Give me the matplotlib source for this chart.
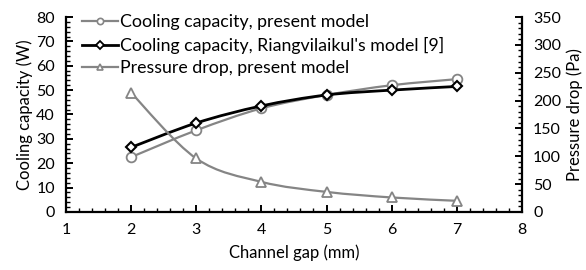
import numpy as np
import matplotlib
matplotlib.use("Agg")
import matplotlib.pyplot as plt
from matplotlib.path import Path
from matplotlib.patches import PathPatch
from matplotlib.lines import Line2D
from matplotlib.ticker import MultipleLocator

plt.rcParams['font.family'] = ['Lato', 'DejaVu Sans']

gap = [2, 3, 4, 5, 6, 7]
cool_present = [22.5, 33.5, 42.5, 48.0, 52.0, 54.5]
cool_riang = [26.5, 36.5, 43.5, 48.0, 50.0, 51.5]
pressure = [214, 96, 54, 36, 26, 20]

labels = ["Cooling capacity, present model",
          "Cooling capacity, Riangvilaikul's model [9]",
          "Pressure drop, present model"]


def smooth_path(ax, x, y, color, lw, z):
    pts = ax.transData.transform(np.column_stack([x, y]))
    n = len(pts)
    verts = [pts[0]]
    codes = [Path.MOVETO]
    for i in range(n - 1):
        p0 = pts[i - 1] if i > 0 else pts[i]
        p1 = pts[i]
        p2 = pts[i + 1]
        p3 = pts[i + 2] if i + 2 < n else pts[i + 1]
        c1 = p1 + (p2 - p0) / 6.0
        c2 = p2 - (p3 - p1) / 6.0
        verts += [c1, c2, p2]
        codes += [Path.CURVE4] * 3
    path = Path(verts, codes)
    patch = PathPatch(path, facecolor='none', edgecolor=color, lw=lw,
                      transform=None, zorder=z)
    ax.add_artist(patch)


fig = plt.figure(figsize=(5.86, 2.70), dpi=100)
ax = fig.add_axes([0.1126, 0.215, 0.778, 0.722])
ax2 = ax.twinx()

ax.set_xlim(1, 8)
ax.set_ylim(0, 80)
ax2.set_ylim(0, 350)

grey = '#858585'

for a in (ax, ax2):
    for s in a.spines.values():
        s.set_visible(False)
ax.spines['left'].set_visible(True)
ax.spines['bottom'].set_visible(True)
ax2.spines['right'].set_visible(True)
for s in ('left', 'bottom'):
    ax.spines[s].set_linewidth(1.6)
ax2.spines['right'].set_linewidth(1.6)

ax.xaxis.set_major_locator(MultipleLocator(1))
ax.xaxis.set_minor_locator(MultipleLocator(0.2))
ax.yaxis.set_major_locator(MultipleLocator(10))
ax.yaxis.set_minor_locator(MultipleLocator(2))
ax2.yaxis.set_major_locator(MultipleLocator(50))
ax2.yaxis.set_minor_locator(MultipleLocator(10))

tfs = 11.5
ax.tick_params(axis='both', which='major', direction='in', length=5, width=1.4, labelsize=tfs, pad=8)
ax.tick_params(axis='both', which='minor', direction='in', length=3, width=1.0)
ax2.tick_params(axis='y', which='major', direction='in', length=5, width=1.4, labelsize=tfs, pad=8)
ax2.tick_params(axis='y', which='minor', direction='in', length=3, width=1.0)

ax.set_xlabel("Channel gap (mm)", fontsize=12, labelpad=5)
ax.set_ylabel("Cooling capacity (W)", fontsize=12, labelpad=2)
ax2.set_ylabel("Pressure drop (Pa)", fontsize=12, labelpad=4)

fig.canvas.draw()

smooth_path(ax, gap, cool_present, grey, 1.6, 3)
ax.plot(gap, cool_present, ls='none', marker='o', ms=7, mfc='white', mec=grey, mew=1.3, zorder=4)
smooth_path(ax, gap, cool_riang, 'black', 2.0, 5)
ax.plot(gap, cool_riang, ls='none', marker='D', ms=5, mfc='white', mec='black', mew=1.5, zorder=6)
smooth_path(ax2, gap, pressure, grey, 1.6, 3)
ax2.plot(gap, pressure, ls='none', marker='^', ms=7, mfc='white', mec=grey, mew=1.3, zorder=4)

handles = [
    Line2D([], [], color=grey, lw=1.6, marker='o', ms=4.5, mfc='white', mec=grey, mew=1.2),
    Line2D([], [], color='black', lw=2.0, marker='D', ms=4, mfc='white', mec='black', mew=1.3),
    Line2D([], [], color=grey, lw=1.6, marker='^', ms=5, mfc='white', mec=grey, mew=1.2),
]
ax2.legend(handles, labels, loc='upper left', bbox_to_anchor=(0.02, 1.05), frameon=False,
           fontsize=12.8, handlelength=2.0, handletextpad=0.15, labelspacing=0.36, borderaxespad=0)

fig.savefig("out.png", dpi=100)
